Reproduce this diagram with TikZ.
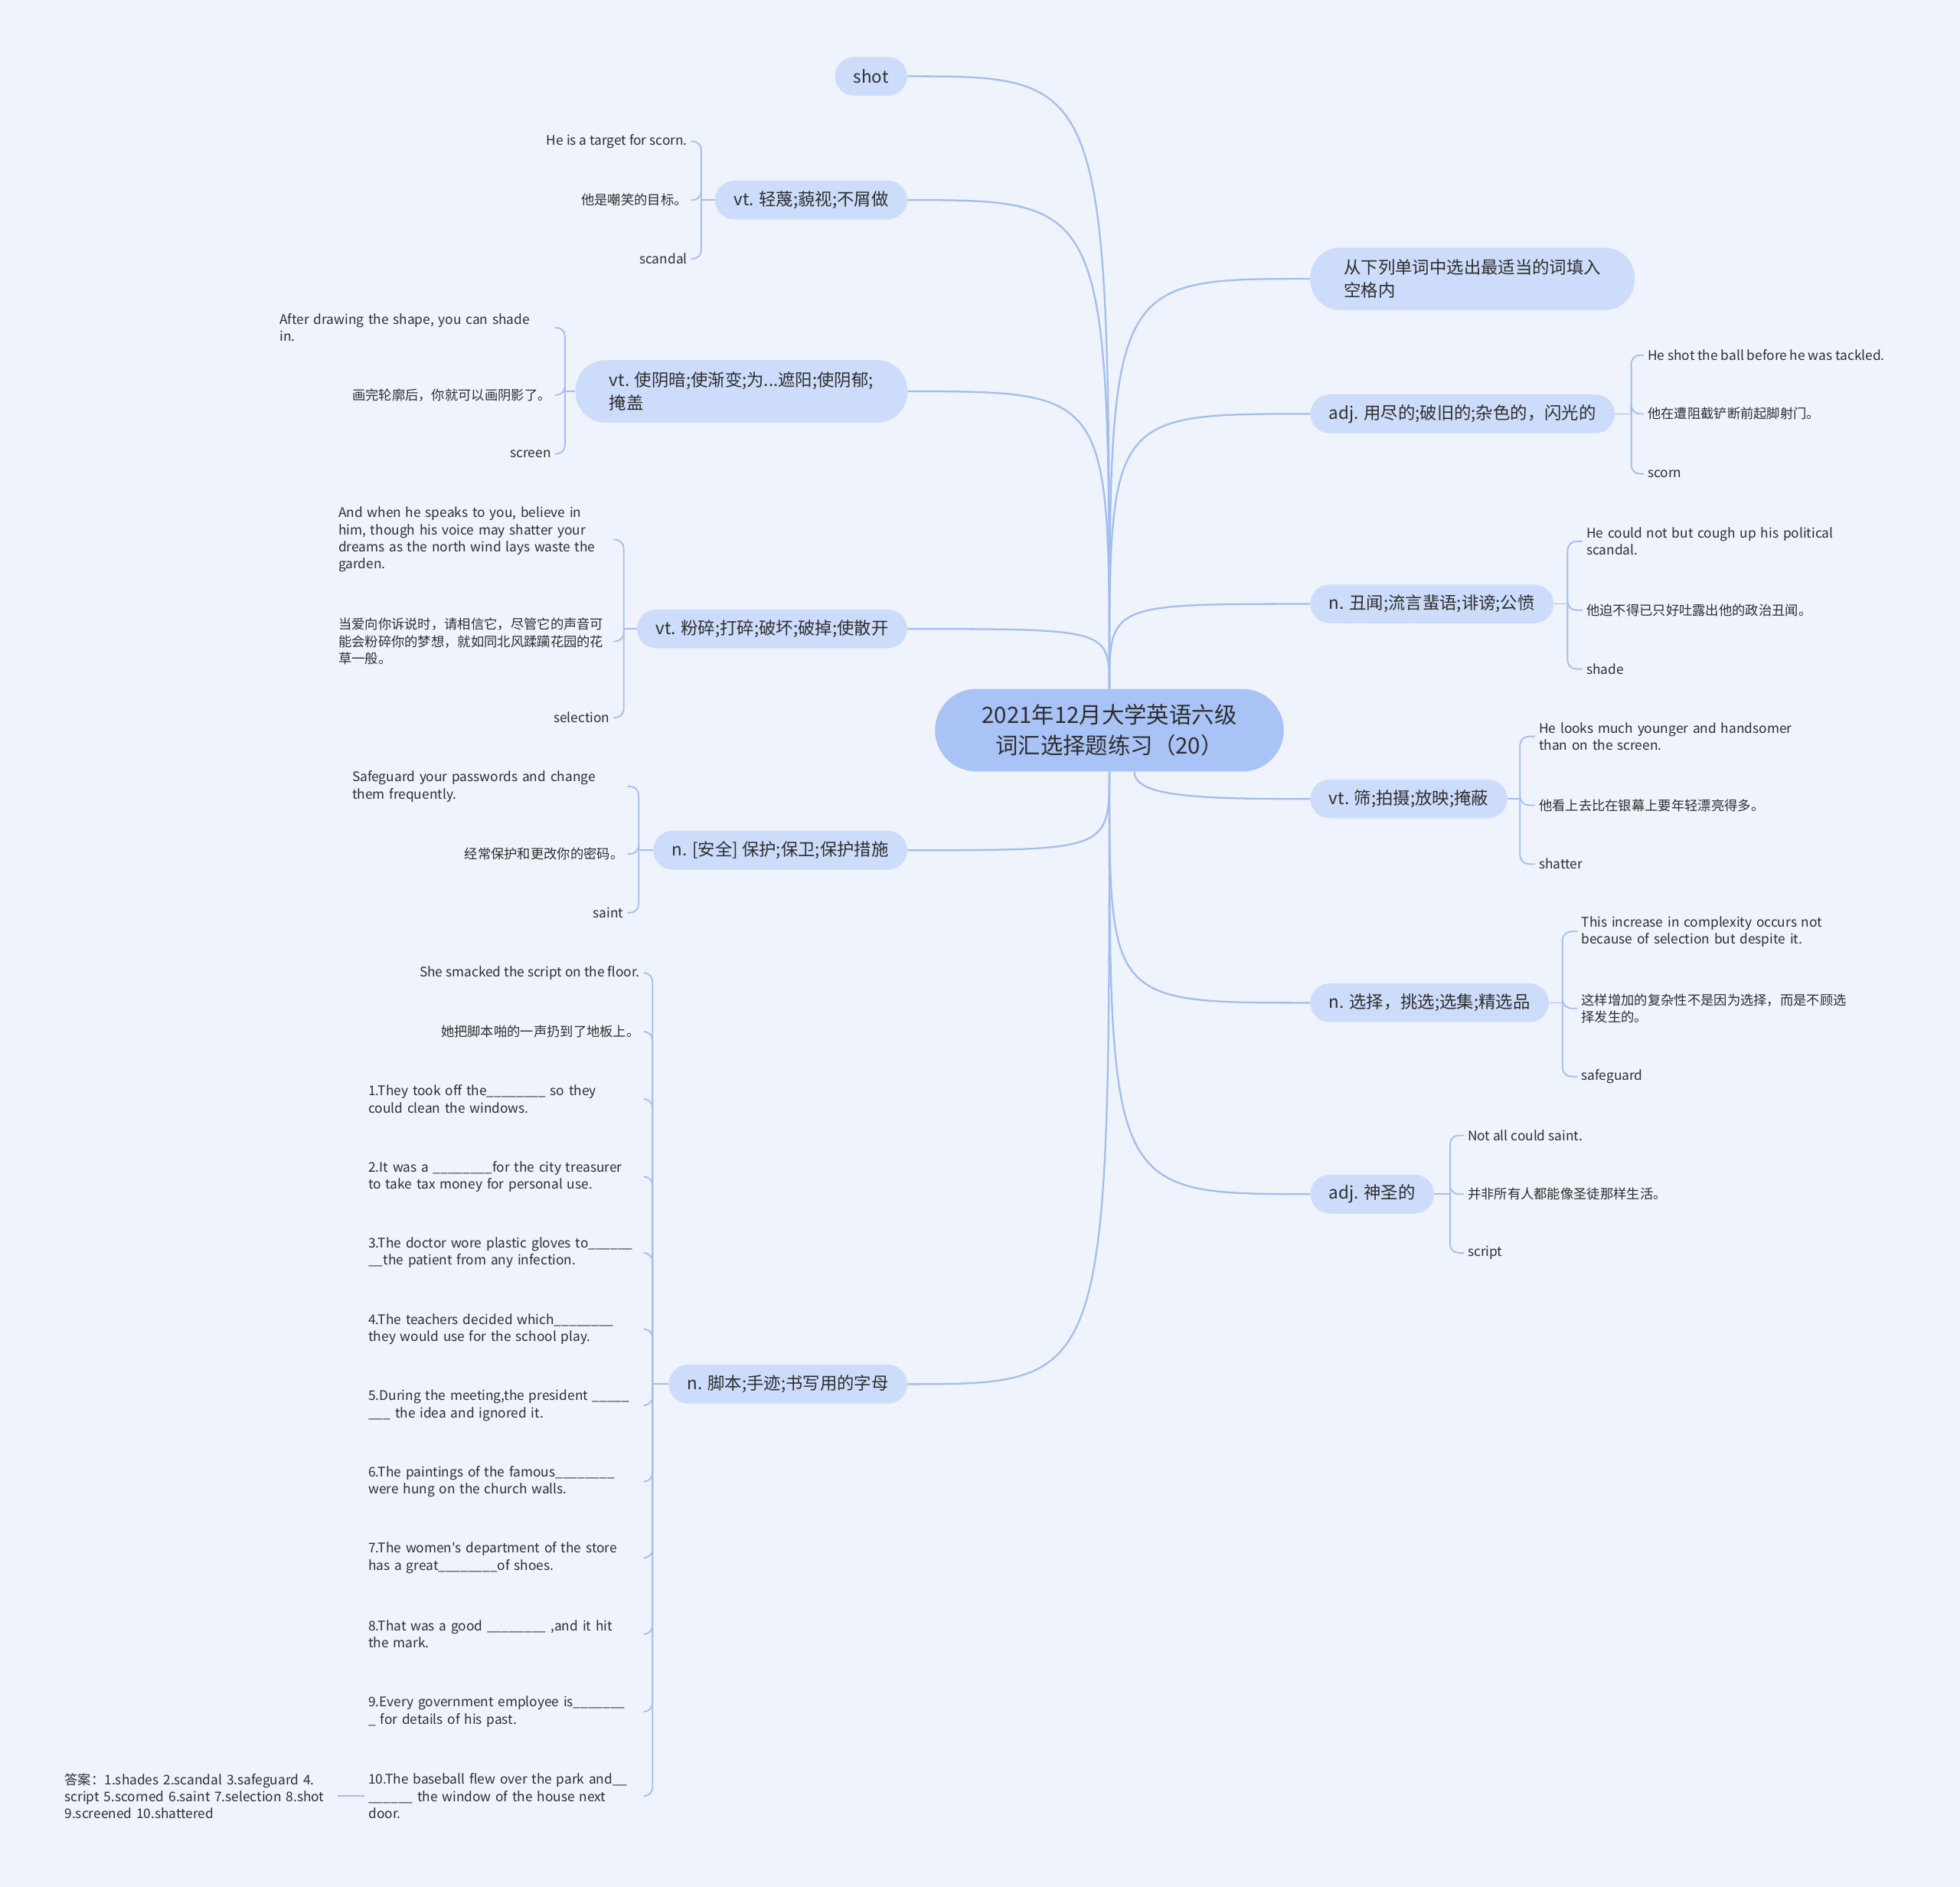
\documentclass[tikz,border=0pt]{standalone}
\usepackage{fontspec}
\setmainfont{Noto Sans CJK SC}[Ligatures=TeXOff]
\definecolor{bgc}{HTML}{EFF3FB}
\definecolor{rootc}{HTML}{A9C3F7}
\definecolor{topicc}{HTML}{CDDCFA}
\definecolor{linec}{HTML}{A3BEEC}
\definecolor{txtc}{HTML}{2E2E2E}
\newcommand{\leaffont}{\fontsize{10.6}{13.7}\selectfont}
\newcommand{\topicfont}{\fontsize{13.7}{18}\selectfont}
\newcommand{\rootfont}{\fontsize{18}{25}\selectfont}

\begin{document}
\begin{tikzpicture}[
	x=1pt, y=-1pt,
	root/.style={rectangle, rounded corners=33, fill=rootc, minimum width=279, minimum height=66, align=center, text=txtc, font=\rootfont},
	topic/.style={rectangle, rounded corners=15.5, fill=topicc, minimum height=31, inner xsep=15, align=center, text=txtc, font=\topicfont},
	topicL/.style={topic, anchor=east},
	topicR/.style={topic, anchor=west},
	leaf/.style={inner xsep=3, inner ysep=1, text=txtc, font=\leaffont},
	leafL/.style={leaf, anchor=east, align=right},
	leafR/.style={leaf, anchor=west, align=left},
	blockL/.style={leaf, anchor=east, text width=217pt, align=left},
	blockR/.style={leaf, anchor=west, text width=217pt, align=left},
	link/.style={draw=linec, line width=1.4pt},
	brace/.style={draw=linec, line width=1.1pt, rounded corners=7}
]
\useasboundingbox (0,0) rectangle (1568,1509);
\fill[bgc] (0,0) rectangle (1568,1509);

\node[root] (root) at (887.5,584) {2021年12月大学英语六级\\词汇选择题练习（20）};

% left topics
\node[topicL] (b1) at (726,61) {shot};
\node[topicL] (b2) at (726,160) {vt. 轻蔑;藐视;不屑做};
\node[topicL, align=left, inner xsep=27, rounded corners=24, minimum height=50] (b3) at (726,313) {vt. 使阴暗;使渐变;为...遮阳;使阴郁;\\掩盖};
\node[topicL] (b4) at (726,503) {vt. 粉碎;打碎;破坏;破掉;使散开};
\node[topicL] (b5) at (726,680) {n. [安全] 保护;保卫;保护措施};
\node[topicL] (b6) at (726,1107) {n. 脚本;手迹;书写用的字母};

% right topics
\node[topicR, align=left, inner xsep=27, rounded corners=24, minimum height=50] (b7) at (1048,223) {从下列单词中选出最适当的词填入\\空格内};
\node[topicR] (b8) at (1048,331) {adj. 用尽的;破旧的;杂色的，闪光的};
\node[topicR] (b9) at (1048,483) {n. 丑闻;流言蜚语;诽谤;公愤};
\node[topicR] (b10) at (1048,639) {vt. 筛;拍摄;放映;掩蔽};
\node[topicR] (b11) at (1048,802) {n. 选择，挑选;选集;精选品};
\node[topicR] (b12) at (1048,955) {adj. 神圣的};

\foreach \b in {b1,b2,b3,b4}
	\draw[link] (root.north) .. controls (root.north |- \b.east) .. (\b.east);
\foreach \b in {b5,b6}
	\draw[link] (root.south) .. controls (root.south |- \b.east) .. (\b.east);
\foreach \b in {b7,b8,b9}
	\draw[link] (root.north) .. controls (root.north |- \b.west) .. (\b.west);
\foreach \b in {b11,b12}
	\draw[link] (root.south) .. controls (root.south |- \b.west) .. (\b.west);
\draw[link] ([xshift=20pt]root.south) .. controls +(0,20) and +(-90,0) .. (b10.west);

% leaves of b2
\node[leafL] (l2a) at (553,113) {He is a target for scorn.};
\node[leafL] (l2b) at (553,160) {他是嘲笑的目标。};
\node[leafL] (l2c) at (553,207) {scandal};
\coordinate (j2) at (561,160);
\draw[link, line width=1.1pt] (b2.west) -- (j2);
\foreach \c in {l2a,l2b,l2c} \draw[brace] (j2) |- (\c.east);

% leaves of b3
\node[blockL] (l3a) at (444,262) {After drawing the shape, you can shade\\in.};
\node[leafL] (l3b) at (444,316) {画完轮廓后，你就可以画阴影了。};
\node[leafL] (l3c) at (444,363) {screen};
\coordinate (j3) at (452,313);
\draw[link, line width=1.1pt] (b3.west) -- (j3);
\foreach \c in {l3a,l3b,l3c} \draw[brace] (j3) |- (\c.east);

% leaves of b4
\node[blockL] (l4a) at (491,431.5) {And when he speaks to you, believe in\\him, though his voice may shatter your\\dreams as the north wind lays waste the\\garden.};
\node[blockL] (l4b) at (491,513) {当爱向你诉说时，请相信它，尽管它的声音可\\能会粉碎你的梦想，就如同北风蹂躏花园的花\\草一般。};
\node[leafL] (l4c) at (491,574) {selection};
\coordinate (j4) at (499,503);
\draw[link, line width=1.1pt] (b4.west) -- (j4);
\foreach \c in {l4a,l4b,l4c} \draw[brace] (j4) |- (\c.east);

% leaves of b5
\node[blockL] (l5a) at (502,629) {Safeguard your passwords and change\\them frequently.};
\node[leafL] (l5b) at (502,683) {经常保护和更改你的密码。};
\node[leafL] (l5c) at (502,730) {saint};
\coordinate (j5) at (511,680);
\draw[link, line width=1.1pt] (b5.west) -- (j5);
\foreach \c in {l5a,l5b,l5c} \draw[brace] (j5) |- (\c.east);

% leaves of b6
\node[leafL] (l6a) at (515,778) {She smacked the script on the floor.};
\node[leafL] (l6b) at (515,825) {她把脚本啪的一声扔到了地板上。};
\node[blockL] (q1) at (515,879) {1.They took off the\_\_\_\_\_\_\_\_ so they\\could clean the windows.};
\node[blockL] (q2) at (515,941) {2.It was a \_\_\_\_\_\_\_\_for the city treasurer\\to take tax money for personal use.};
\node[blockL] (q3) at (515,1002) {3.The doctor wore plastic gloves to\_\_\_\_\_\_\\\_\_the patient from any infection.};
\node[blockL] (q4) at (515,1063) {4.The teachers decided which\_\_\_\_\_\_\_\_\\they would use for the school play.};
\node[blockL] (q5) at (515,1124) {5.During the meeting,the president \_\_\_\_\_\\\_\_\_ the idea and ignored it.};
\node[blockL] (q6) at (515,1185) {6.The paintings of the famous\_\_\_\_\_\_\_\_\\were hung on the church walls.};
\node[blockL] (q7) at (515,1246) {7.The women's department of the store\\has a great\_\_\_\_\_\_\_\_of shoes.};
\node[blockL] (q8) at (515,1307) {8.That was a good \_\_\_\_\_\_\_\_ ,and it hit\\the mark.};
\node[blockL] (q9) at (515,1369) {9.Every government employee is\_\_\_\_\_\_\_\\\_ for details of his past.};
\node[blockL] (q10) at (515,1436.5) {10.The baseball flew over the park and\_\_\\\_\_\_\_\_\_ the window of the house next\\door.};
\coordinate (j6) at (522,1107);
\draw[link, line width=1.1pt] (b6.west) -- (j6);
\foreach \c in {l6a,l6b,q1,q2,q3,q4,q5,q6,q7,q8,q9,q10} \draw[brace] (j6) |- (\c.east);

\node[leaf, anchor=east, text width=215pt, align=left] (ans) at (270,1436.5) {答案：1.shades 2.scandal 3.safeguard 4.\\script 5.scorned 6.saint 7.selection 8.shot\\9.screened 10.shattered};
\draw[link, line width=1.1pt] (q10.west) -- (ans.east);

% leaves of b8
\node[leafR] (r8a) at (1315,284) {He shot the ball before he was tackled.};
\node[leafR] (r8b) at (1315,331) {他在遭阻截铲断前起脚射门。};
\node[leafR] (r8c) at (1315,379) {scorn};
\coordinate (j8) at (1305,331);
\draw[link, line width=1.1pt] (b8.east) -- (j8);
\foreach \c in {r8a,r8b,r8c} \draw[brace] (j8) |- (\c.west);

% leaves of b9
\node[blockR] (r9a) at (1266,433) {He could not but cough up his political\\scandal.};
\node[leafR] (r9b) at (1266,488) {他迫不得已只好吐露出他的政治丑闻。};
\node[leafR] (r9c) at (1266,535) {shade};
\coordinate (j9) at (1254,483);
\draw[link, line width=1.1pt] (b9.east) -- (j9);
\foreach \c in {r9a,r9b,r9c} \draw[brace] (j9) |- (\c.west);

% leaves of b10
\node[blockR] (r10a) at (1228,589) {He looks much younger and handsomer\\than on the screen.};
\node[leafR] (r10b) at (1228,644) {他看上去比在银幕上要年轻漂亮得多。};
\node[leafR] (r10c) at (1228,691) {shatter};
\coordinate (j10) at (1216,639);
\draw[link, line width=1.1pt] (b10.east) -- (j10);
\foreach \c in {r10a,r10b,r10c} \draw[brace] (j10) |- (\c.west);

% leaves of b11
\node[blockR] (r11a) at (1262,745) {This increase in complexity occurs not\\because of selection but despite it.};
\node[blockR] (r11b) at (1262,806.5) {这样增加的复杂性不是因为选择，而是不顾选\\择发生的。};
\node[leafR] (r11c) at (1262,861) {safeguard};
\coordinate (j11) at (1250,802);
\draw[link, line width=1.1pt] (b11.east) -- (j11);
\foreach \c in {r11a,r11b,r11c} \draw[brace] (j11) |- (\c.west);

% leaves of b12
\node[leafR] (r12a) at (1171,908) {Not all could saint.};
\node[leafR] (r12b) at (1171,955) {并非所有人都能像圣徒那样生活。};
\node[leafR] (r12c) at (1171,1002) {script};
\coordinate (j12) at (1160,955);
\draw[link, line width=1.1pt] (b12.east) -- (j12);
\foreach \c in {r12a,r12b,r12c} \draw[brace] (j12) |- (\c.west);
\end{tikzpicture}
\end{document}
